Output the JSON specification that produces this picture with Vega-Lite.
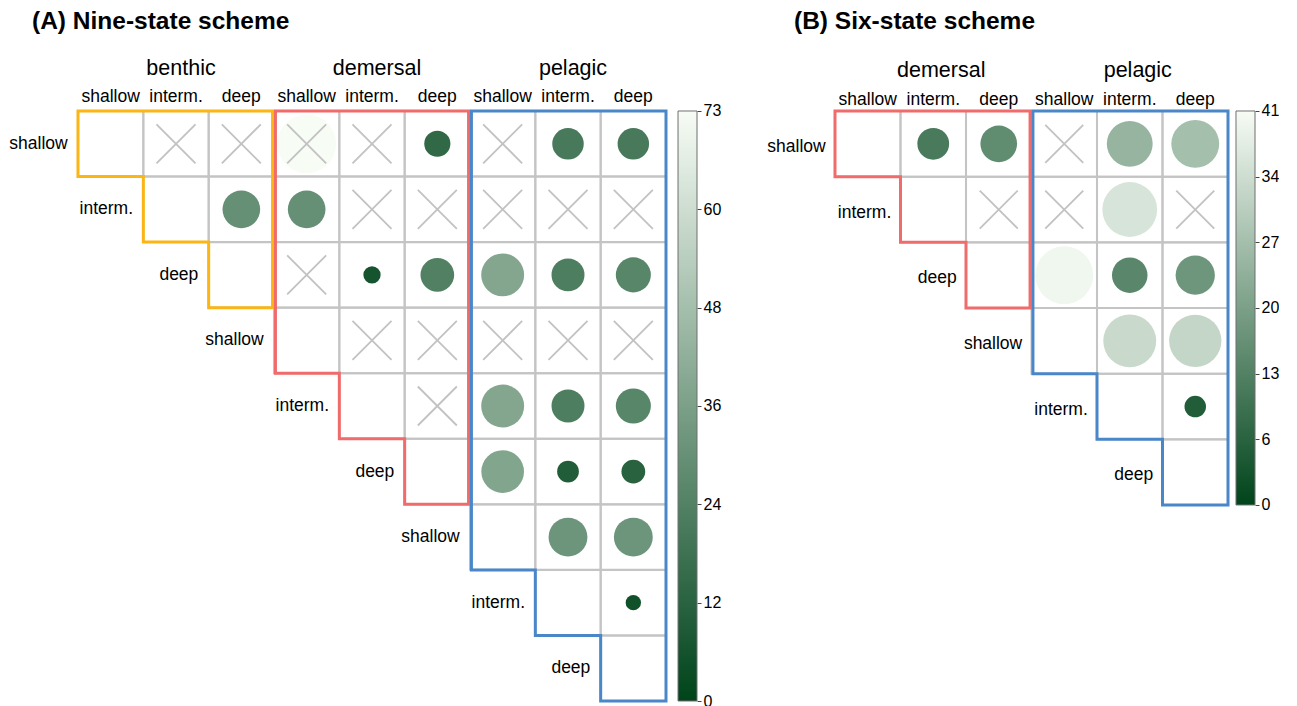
{
  "$schema": "https://vega.github.io/schema/vega-lite/v6.json",
  "padding": {"left": 0, "top": 8, "right": 0, "bottom": 0},
  "background": "white",
  "config": {
    "view": {"stroke": null, "fill": "transparent"},
    "font": "Liberation Sans",
    "text": {"font": "Liberation Sans", "color": "#000000"}
  },
  "datasets": {
    "cellsA": [
      {"r":0,"c":0,"v":null,"cross":0},{"r":0,"c":1,"v":null,"cross":1},{"r":0,"c":2,"v":null,"cross":1},{"r":0,"c":3,"v":73,"cross":1},{"r":0,"c":4,"v":null,"cross":1},{"r":0,"c":5,"v":14.5,"cross":0},{"r":0,"c":6,"v":null,"cross":1},{"r":0,"c":7,"v":21,"cross":0},{"r":0,"c":8,"v":21,"cross":0},
      {"r":1,"c":1,"v":null,"cross":0},{"r":1,"c":2,"v":30,"cross":0},{"r":1,"c":3,"v":30,"cross":0},{"r":1,"c":4,"v":null,"cross":1},{"r":1,"c":5,"v":null,"cross":1},{"r":1,"c":6,"v":null,"cross":1},{"r":1,"c":7,"v":null,"cross":1},{"r":1,"c":8,"v":null,"cross":1},
      {"r":2,"c":2,"v":null,"cross":0},{"r":2,"c":3,"v":null,"cross":1},{"r":2,"c":4,"v":6.3,"cross":0},{"r":2,"c":5,"v":24,"cross":0},{"r":2,"c":6,"v":39,"cross":0},{"r":2,"c":7,"v":23,"cross":0},{"r":2,"c":8,"v":26,"cross":0},
      {"r":3,"c":3,"v":null,"cross":0},{"r":3,"c":4,"v":null,"cross":1},{"r":3,"c":5,"v":null,"cross":1},{"r":3,"c":6,"v":null,"cross":1},{"r":3,"c":7,"v":null,"cross":1},{"r":3,"c":8,"v":null,"cross":1},
      {"r":4,"c":4,"v":null,"cross":0},{"r":4,"c":5,"v":null,"cross":1},{"r":4,"c":6,"v":39,"cross":0},{"r":4,"c":7,"v":23,"cross":0},{"r":4,"c":8,"v":26,"cross":0},
      {"r":5,"c":5,"v":null,"cross":0},{"r":5,"c":6,"v":38.5,"cross":0},{"r":5,"c":7,"v":10,"cross":0},{"r":5,"c":8,"v":12,"cross":0},
      {"r":6,"c":6,"v":null,"cross":0},{"r":6,"c":7,"v":32,"cross":0},{"r":6,"c":8,"v":32,"cross":0},
      {"r":7,"c":7,"v":null,"cross":0},{"r":7,"c":8,"v":5,"cross":0},
      {"r":8,"c":8,"v":null,"cross":0}
    ],
    "cellsB": [
      {"r":0,"c":0,"v":null,"cross":0},{"r":0,"c":1,"v":12,"cross":0},{"r":0,"c":2,"v":16,"cross":0},{"r":0,"c":3,"v":null,"cross":1},{"r":0,"c":4,"v":25,"cross":0},{"r":0,"c":5,"v":27.3,"cross":0},
      {"r":1,"c":1,"v":null,"cross":0},{"r":1,"c":2,"v":null,"cross":1},{"r":1,"c":3,"v":null,"cross":1},{"r":1,"c":4,"v":35.7,"cross":0},{"r":1,"c":5,"v":null,"cross":1},
      {"r":2,"c":2,"v":null,"cross":0},{"r":2,"c":3,"v":39.8,"cross":0},{"r":2,"c":4,"v":15,"cross":0},{"r":2,"c":5,"v":18.3,"cross":0},
      {"r":3,"c":3,"v":null,"cross":0},{"r":3,"c":4,"v":33.3,"cross":0},{"r":3,"c":5,"v":32.5,"cross":0},
      {"r":4,"c":4,"v":null,"cross":0},{"r":4,"c":5,"v":5.5,"cross":0},
      {"r":5,"c":5,"v":null,"cross":0}
    ],
    "outlineA": [
      {"g":"benthic","o":0,"c":-0.5,"r":-0.5},{"g":"benthic","o":1,"c":2.478,"r":-0.5},{"g":"benthic","o":2,"c":2.478,"r":2.5},{"g":"benthic","o":3,"c":1.5,"r":2.5},{"g":"benthic","o":4,"c":1.5,"r":1.5},{"g":"benthic","o":5,"c":0.5,"r":1.5},{"g":"benthic","o":6,"c":0.5,"r":0.5},{"g":"benthic","o":7,"c":-0.5,"r":0.5},{"g":"benthic","o":8,"c":-0.5,"r":-0.5},
      {"g":"demersal","o":0,"c":2.522,"r":-0.5},{"g":"demersal","o":1,"c":5.478,"r":-0.5},{"g":"demersal","o":2,"c":5.478,"r":5.5},{"g":"demersal","o":3,"c":4.5,"r":5.5},{"g":"demersal","o":4,"c":4.5,"r":4.5},{"g":"demersal","o":5,"c":3.5,"r":4.5},{"g":"demersal","o":6,"c":3.5,"r":3.5},{"g":"demersal","o":7,"c":2.522,"r":3.5},{"g":"demersal","o":8,"c":2.522,"r":-0.5},
      {"g":"pelagic","o":0,"c":5.522,"r":-0.5},{"g":"pelagic","o":1,"c":8.5,"r":-0.5},{"g":"pelagic","o":2,"c":8.5,"r":8.5},{"g":"pelagic","o":3,"c":7.5,"r":8.5},{"g":"pelagic","o":4,"c":7.5,"r":7.5},{"g":"pelagic","o":5,"c":6.5,"r":7.5},{"g":"pelagic","o":6,"c":6.5,"r":6.5},{"g":"pelagic","o":7,"c":5.522,"r":6.5},{"g":"pelagic","o":8,"c":5.522,"r":-0.5}
    ],
    "outlineB": [
      {"g":"demersal","o":0,"c":-0.5,"r":-0.5},{"g":"demersal","o":1,"c":2.478,"r":-0.5},{"g":"demersal","o":2,"c":2.478,"r":2.5},{"g":"demersal","o":3,"c":1.5,"r":2.5},{"g":"demersal","o":4,"c":1.5,"r":1.5},{"g":"demersal","o":5,"c":0.5,"r":1.5},{"g":"demersal","o":6,"c":0.5,"r":0.5},{"g":"demersal","o":7,"c":-0.5,"r":0.5},{"g":"demersal","o":8,"c":-0.5,"r":-0.5},
      {"g":"pelagic","o":0,"c":2.522,"r":-0.5},{"g":"pelagic","o":1,"c":5.5,"r":-0.5},{"g":"pelagic","o":2,"c":5.5,"r":5.5},{"g":"pelagic","o":3,"c":4.5,"r":5.5},{"g":"pelagic","o":4,"c":4.5,"r":4.5},{"g":"pelagic","o":5,"c":3.5,"r":4.5},{"g":"pelagic","o":6,"c":3.5,"r":3.5},{"g":"pelagic","o":7,"c":2.522,"r":3.5},{"g":"pelagic","o":8,"c":2.522,"r":-0.5}
    ],
    "subA": [
      {"c":0,"lab":"shallow"},{"c":1,"lab":"interm."},{"c":2,"lab":"deep"},
      {"c":3,"lab":"shallow"},{"c":4,"lab":"interm."},{"c":5,"lab":"deep"},
      {"c":6,"lab":"shallow"},{"c":7,"lab":"interm."},{"c":8,"lab":"deep"}
    ],
    "subB": [
      {"c":0,"lab":"shallow"},{"c":1,"lab":"interm."},{"c":2,"lab":"deep"},
      {"c":3,"lab":"shallow"},{"c":4,"lab":"interm."},{"c":5,"lab":"deep"}
    ],
    "grpA": [{"c":1,"lab":"benthic"},{"c":4,"lab":"demersal"},{"c":7,"lab":"pelagic"}],
    "grpB": [{"c":1,"lab":"demersal"},{"c":4,"lab":"pelagic"}],
    "rowA": [
      {"r":0,"lab":"shallow"},{"r":1,"lab":"interm."},{"r":2,"lab":"deep"},
      {"r":3,"lab":"shallow"},{"r":4,"lab":"interm."},{"r":5,"lab":"deep"},
      {"r":6,"lab":"shallow"},{"r":7,"lab":"interm."},{"r":8,"lab":"deep"}
    ],
    "rowB": [
      {"r":0,"lab":"shallow"},{"r":1,"lab":"interm."},{"r":2,"lab":"deep"},
      {"r":3,"lab":"shallow"},{"r":4,"lab":"interm."},{"r":5,"lab":"deep"}
    ],
    "barA": [{"lo":0,"hi":73}],
    "barB": [{"lo":0,"hi":41}]
  },
  "bounds": "flush",
  "spacing": 20,
  "resolve": {"scale": {"x": "independent", "y": "independent", "fill": "independent", "size": "independent", "stroke": "independent"}},
  "hconcat": [
    {
      "width": 697,
      "height": 660,
      "title": {"text": "(A) Nine-state scheme", "anchor": "start", "frame": "group", "dx": 32, "offset": -12, "fontSize": 24.5, "fontWeight": "bold", "font": "Liberation Sans", "baseline": "alphabetic", "color": "#000000"},
      "resolve": {"scale": {"y": "independent"}},
      "layer": [
        {
          "data": {"name": "cellsA"},
          "mark": {"type": "point", "shape": "square", "size": 4280, "filled": false, "stroke": "#c4c4c4", "strokeWidth": 2, "opacity": 1},
          "encoding": {
            "x": {"field": "c", "type": "quantitative", "scale": {"domain": [-1.6939, 8.9745], "nice": false, "zero": false}, "axis": null},
            "y": {"field": "r", "type": "quantitative", "scale": {"domain": [-1.5678, 8.5], "reverse": true, "nice": false, "zero": false}, "axis": null}
          }
        },
        {
          "data": {"name": "cellsA"},
          "transform": [{"filter": "isValid(datum.v)"}],
          "mark": {"type": "point", "shape": "circle", "filled": true, "opacity": 1, "strokeWidth": 0},
          "encoding": {
            "x": {"field": "c", "type": "quantitative", "scale": {"domain": [-1.6939, 8.9745], "nice": false, "zero": false}, "axis": null},
            "y": {"field": "r", "type": "quantitative", "scale": {"domain": [-1.5678, 8.5], "reverse": true, "nice": false, "zero": false}, "axis": null},
            "fill": {"field": "v", "type": "quantitative", "scale": {"domain": [0, 73], "range": ["#00441b", "#f7fcf5"], "interpolate": "rgb"}, "legend": null},
            "size": {"field": "v", "type": "quantitative", "scale": {"domain": [0, 73], "range": [0, 3450]}, "legend": null}
          }
        },
        {
          "data": {"name": "cellsA"},
          "transform": [{"filter": "datum.cross == 1"}],
          "mark": {"type": "point", "shape": "M-1,-1L1,1M1,-1L-1,1", "size": 1521, "filled": false, "stroke": "#c2c2c2", "strokeWidth": 1.8, "opacity": 1},
          "encoding": {
            "x": {"field": "c", "type": "quantitative", "scale": {"domain": [-1.6939, 8.9745], "nice": false, "zero": false}, "axis": null},
            "y": {"field": "r", "type": "quantitative", "scale": {"domain": [-1.5678, 8.5], "reverse": true, "nice": false, "zero": false}, "axis": null}
          }
        },
        {
          "data": {"name": "outlineA"},
          "mark": {"type": "line", "strokeWidth": 3, "strokeJoin": "miter", "strokeCap": "square"},
          "encoding": {
            "x": {"field": "c", "type": "quantitative", "scale": {"domain": [-1.6939, 8.9745], "nice": false, "zero": false}, "axis": null},
            "y": {"field": "r", "type": "quantitative", "scale": {"domain": [-1.5678, 8.5], "reverse": true, "nice": false, "zero": false}, "axis": null},
            "stroke": {"field": "g", "type": "nominal", "scale": {"domain": ["benthic", "demersal", "pelagic"], "range": ["#fbb515", "#f06b6b", "#4a87c9"]}, "legend": null},
            "order": {"field": "o", "type": "quantitative"}
          }
        },
        {
          "data": {"name": "subA"},
          "mark": {"type": "text", "fontSize": 17.5, "align": "center", "baseline": "middle"},
          "encoding": {
            "x": {"field": "c", "type": "quantitative", "scale": {"domain": [-1.6939, 8.9745], "nice": false, "zero": false}, "axis": null},
            "y": {"datum": -0.7136, "type": "quantitative", "scale": {"domain": [-1.5678, 8.5], "reverse": true, "nice": false, "zero": false}, "axis": null},
            "text": {"field": "lab"}
          }
        },
        {
          "data": {"name": "grpA"},
          "mark": {"type": "text", "fontSize": 21.5, "align": "center", "baseline": "middle", "dx": 5},
          "encoding": {
            "x": {"field": "c", "type": "quantitative", "scale": {"domain": [-1.6939, 8.9745], "nice": false, "zero": false}, "axis": null},
            "y": {"datum": -1.1407, "type": "quantitative", "scale": {"domain": [-1.5678, 8.5], "reverse": true, "nice": false, "zero": false}, "axis": null},
            "text": {"field": "lab"}
          }
        },
        {
          "data": {"name": "rowA"},
          "mark": {"type": "text", "fontSize": 17.5, "align": "right", "baseline": "middle", "dx": -43},
          "encoding": {
            "x": {"field": "r", "type": "quantitative", "scale": {"domain": [-1.6939, 8.9745], "nice": false, "zero": false}, "axis": null},
            "y": {"field": "r", "type": "quantitative", "scale": {"domain": [-1.5678, 8.5], "reverse": true, "nice": false, "zero": false}, "axis": null},
            "text": {"field": "lab"}
          }
        },
        {
          "data": {"name": "barA"},
          "mark": {"type": "rect", "stroke": "#6f6f6f", "strokeWidth": 1, "fill": {"gradient": "linear", "x1": 0, "y1": 1, "x2": 0, "y2": 0, "stops": [{"offset": 0, "color": "#00441b"}, {"offset": 1, "color": "#f7fcf5"}]}},
          "encoding": {
            "x": {"datum": 8.684, "type": "quantitative", "scale": {"domain": [-1.6939, 8.9745], "nice": false, "zero": false}, "axis": null},
            "x2": {"datum": 8.9745},
            "y": {"field": "lo", "type": "quantitative", "scale": {"domain": [0, 81.661], "nice": false, "zero": false},
                  "axis": {"orient": "right", "title": null, "values": [0, 12.1667, 24.3333, 36.5, 48.6667, 60.8333, 73], "labelExpr": "floor(datum.value)", "domain": false, "grid": false, "ticks": true, "tickSize": 4, "tickColor": "#444444", "tickWidth": 1, "labelFontSize": 16, "labelFont": "Liberation Sans", "labelColor": "#000000", "labelPadding": 2, "labelFlush": false, "labelOverlap": false}},
            "y2": {"field": "hi"}
          }
        }
      ]
    },
    {
      "width": 538,
      "height": 660,
      "title": {"text": "(B) Six-state scheme", "anchor": "start", "frame": "group", "dx": 77, "offset": -12, "fontSize": 24.5, "fontWeight": "bold", "font": "Liberation Sans", "baseline": "alphabetic", "color": "#000000"},
      "resolve": {"scale": {"y": "independent"}},
      "layer": [
        {
          "data": {"name": "cellsB"},
          "mark": {"type": "point", "shape": "square", "size": 4301, "filled": false, "stroke": "#c4c4c4", "strokeWidth": 2, "opacity": 1},
          "encoding": {
            "x": {"field": "c", "type": "quantitative", "scale": {"domain": [-2.3015, 5.9122], "nice": false, "zero": false}, "axis": null},
            "y": {"field": "r", "type": "quantitative", "scale": {"domain": [-1.566, 8.484], "reverse": true, "nice": false, "zero": false}, "axis": null}
          }
        },
        {
          "data": {"name": "cellsB"},
          "transform": [{"filter": "isValid(datum.v)"}],
          "mark": {"type": "point", "shape": "circle", "filled": true, "opacity": 1, "strokeWidth": 0},
          "encoding": {
            "x": {"field": "c", "type": "quantitative", "scale": {"domain": [-2.3015, 5.9122], "nice": false, "zero": false}, "axis": null},
            "y": {"field": "r", "type": "quantitative", "scale": {"domain": [-1.566, 8.484], "reverse": true, "nice": false, "zero": false}, "axis": null},
            "fill": {"field": "v", "type": "quantitative", "scale": {"domain": [0, 41], "range": ["#00441b", "#f7fcf5"], "interpolate": "rgb"}, "legend": null},
            "size": {"field": "v", "type": "quantitative", "scale": {"domain": [0, 41], "range": [0, 3450]}, "legend": null}
          }
        },
        {
          "data": {"name": "cellsB"},
          "transform": [{"filter": "datum.cross == 1"}],
          "mark": {"type": "point", "shape": "M-1,-1L1,1M1,-1L-1,1", "size": 1444, "filled": false, "stroke": "#c2c2c2", "strokeWidth": 1.8, "opacity": 1},
          "encoding": {
            "x": {"field": "c", "type": "quantitative", "scale": {"domain": [-2.3015, 5.9122], "nice": false, "zero": false}, "axis": null},
            "y": {"field": "r", "type": "quantitative", "scale": {"domain": [-1.566, 8.484], "reverse": true, "nice": false, "zero": false}, "axis": null}
          }
        },
        {
          "data": {"name": "outlineB"},
          "mark": {"type": "line", "strokeWidth": 3, "strokeJoin": "miter", "strokeCap": "square"},
          "encoding": {
            "x": {"field": "c", "type": "quantitative", "scale": {"domain": [-2.3015, 5.9122], "nice": false, "zero": false}, "axis": null},
            "y": {"field": "r", "type": "quantitative", "scale": {"domain": [-1.566, 8.484], "reverse": true, "nice": false, "zero": false}, "axis": null},
            "stroke": {"field": "g", "type": "nominal", "scale": {"domain": ["demersal", "pelagic"], "range": ["#f06b6b", "#4a87c9"]}, "legend": null},
            "order": {"field": "o", "type": "quantitative"}
          }
        },
        {
          "data": {"name": "subB"},
          "mark": {"type": "text", "fontSize": 17.5, "align": "center", "baseline": "middle"},
          "encoding": {
            "x": {"field": "c", "type": "quantitative", "scale": {"domain": [-2.3015, 5.9122], "nice": false, "zero": false}, "axis": null},
            "y": {"datum": -0.66, "type": "quantitative", "scale": {"domain": [-1.566, 8.484], "reverse": true, "nice": false, "zero": false}, "axis": null},
            "text": {"field": "lab"}
          }
        },
        {
          "data": {"name": "grpB"},
          "mark": {"type": "text", "fontSize": 21.5, "align": "center", "baseline": "middle", "dx": 8},
          "encoding": {
            "x": {"field": "c", "type": "quantitative", "scale": {"domain": [-2.3015, 5.9122], "nice": false, "zero": false}, "axis": null},
            "y": {"datum": -1.11, "type": "quantitative", "scale": {"domain": [-1.566, 8.484], "reverse": true, "nice": false, "zero": false}, "axis": null},
            "text": {"field": "lab"}
          }
        },
        {
          "data": {"name": "rowB"},
          "mark": {"type": "text", "fontSize": 17.5, "align": "right", "baseline": "middle", "dx": -42, "dy": 3},
          "encoding": {
            "x": {"field": "r", "type": "quantitative", "scale": {"domain": [-2.3015, 5.9122], "nice": false, "zero": false}, "axis": null},
            "y": {"field": "r", "type": "quantitative", "scale": {"domain": [-1.566, 8.484], "reverse": true, "nice": false, "zero": false}, "axis": null},
            "text": {"field": "lab"}
          }
        },
        {
          "data": {"name": "barB"},
          "mark": {"type": "rect", "stroke": "#6f6f6f", "strokeWidth": 1, "fill": {"gradient": "linear", "x1": 0, "y1": 1, "x2": 0, "y2": 0, "stops": [{"offset": 0, "color": "#00441b"}, {"offset": 1, "color": "#f7fcf5"}]}},
          "encoding": {
            "x": {"datum": 5.6221, "type": "quantitative", "scale": {"domain": [-2.3015, 5.9122], "nice": false, "zero": false}, "axis": null},
            "x2": {"datum": 5.9122},
            "y": {"field": "lo", "type": "quantitative", "scale": {"domain": [-20.396, 48.284], "nice": false, "zero": false},
                  "axis": {"orient": "right", "title": null, "values": [0, 6.8333, 13.6667, 20.5, 27.3333, 34.1667, 41], "labelExpr": "floor(datum.value)", "domain": false, "grid": false, "ticks": true, "tickSize": 4, "tickColor": "#444444", "tickWidth": 1, "labelFontSize": 16, "labelFont": "Liberation Sans", "labelColor": "#000000", "labelPadding": 2, "labelFlush": false, "labelOverlap": false}},
            "y2": {"field": "hi"}
          }
        }
      ]
    }
  ]
}
